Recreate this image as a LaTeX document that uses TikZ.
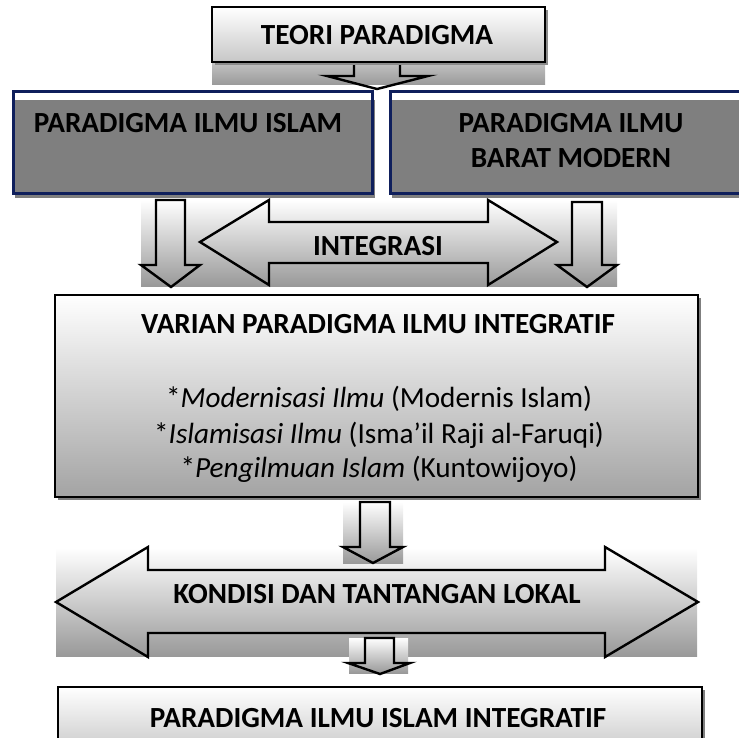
\documentclass[tikz,border=0pt]{standalone}
\usepackage{fontspec}
\setmainfont{Carlito}
\definecolor{navyline}{HTML}{0F1F5C}
\definecolor{boxgray}{HTML}{7F7F7F}
\tikzset{
  title/.style={font=\fontsize{14.6}{17}\selectfont\bfseries, anchor=base, inner sep=0pt},
  entry/.style={font=\fontsize{14.6}{17}\selectfont, anchor=base, inner sep=0pt},
  frame/.style={draw=black, line width=1.3pt},
  navyframe/.style={draw=navyline, line width=1.5pt},
  outline/.style={draw=black, line width=1.2pt, line join=miter},
}
\begin{document}
\begin{tikzpicture}[x=0.5pt,y=-0.5pt]
\useasboundingbox (0,0) rectangle (739,738);
\clip (0,0) rectangle (739,738);

% Teori paradigma
\shade[top color=black!22, bottom color=black!40] (212,60) rectangle (545,85);
\draw[outline] (354,60) -- (354,76) -- (327,76) -- (377,89) -- (428,76) -- (400,76) -- (400,60);
\fill[black!45] (215,10) rectangle (548,65);
\shade[top color=white, bottom color=black!22] (212,7) rectangle (545,62);
\draw[frame] (212,7) rectangle (545,62);
\node[title] (teori) at (377,45) {TEORI PARADIGMA};

% Islam / Barat
\fill[boxgray] (15,100) rectangle (375,198);
\draw[navyframe] (13,92) rectangle (372,193);
\node[title] (islam) at (188,133) {PARADIGMA ILMU ISLAM};
\fill[boxgray] (392,100) rectangle (760,198);
\draw[navyframe] (390,92) rectangle (760,193);
\node[title] (baratA) at (571,133) {PARADIGMA ILMU};
\node[title] (baratB) at (571,168) {BARAT MODERN};

% Integrasi
\shade[top color=white, bottom color=black!40] (141,200) rectangle (617,286);
\draw[outline] (200,242) -- (269,200) -- (269,222) -- (488,222) -- (488,200) -- (557,242)
  -- (488,285) -- (488,263) -- (269,263) -- (269,285) -- cycle;
\draw[outline] (156,200) -- (185,200) -- (185,265) -- (200,265) -- (171,287) -- (141,265) -- (156,265) -- cycle;
\draw[outline] (572,202) -- (602,202) -- (602,265) -- (617,265) -- (587,287) -- (557,265) -- (572,265) -- cycle;
\node[title] (integrasi) at (378,255) {INTEGRASI};

% Varian
\fill[boxgray] (58,298) rectangle (701,500);
\shade[top color=white, bottom color=black!36] (55,295) rectangle (698,497);
\draw[frame] (55,295) rectangle (698,497);
\node[title] (varian) at (378,333) {VARIAN PARADIGMA ILMU INTEGRATIF};
\node[entry] (var1) at (379,407) {*\textit{Modernisasi Ilmu} (Modernis Islam)};
\node[entry] (var2) at (379,443) {*\textit{Islamisasi Ilmu} (Isma’il Raji al-Faruqi)};
\node[entry] (var3) at (379,477) {*\textit{Pengilmuan Islam} (Kuntowijoyo)};

% Kondisi
\shade[top color=white, bottom color=black!40] (56,548) rectangle (697,656);
\draw[outline] (56,602) -- (148,547) -- (148,570) -- (605,570) -- (605,547) -- (698,602)
  -- (605,657) -- (605,633) -- (148,633) -- (148,657) -- cycle;
\shade[top color=white, bottom color=black!40] (343,502) rectangle (403,563);
\draw[outline] (360,502) -- (390,502) -- (390,547) -- (403,547) -- (373,563) -- (343,547) -- (360,547) -- cycle;
\node[title] (kondisi) at (377,603) {KONDISI DAN TANTANGAN LOKAL};
\shade[top color=white, bottom color=black!40] (349,638) rectangle (408,673);
\draw[outline] (365,638) -- (394,638) -- (394,663) -- (410,663) -- (380,674) -- (348,663) -- (365,663) -- cycle;

% Integratif
\fill[boxgray] (61,690) rectangle (705,760);
\shade[top color=white, bottom color=black!30] (58,687) rectangle (702,780);
\draw[frame] (58,687) rectangle (702,780);
\node[title] (integratif) at (378,727) {PARADIGMA ILMU ISLAM INTEGRATIF};
\end{tikzpicture}
\end{document}
